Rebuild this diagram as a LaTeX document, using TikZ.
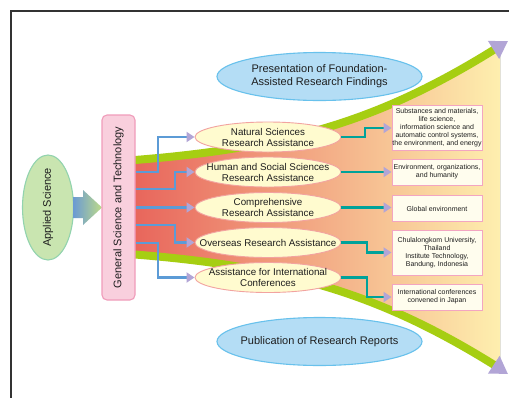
\documentclass[tikz,border=0pt]{standalone}
\usepackage{fontspec}
\setmainfont{Liberation Sans}
\usetikzlibrary{arrows.meta,shapes.geometric}
\definecolor{framec}{HTML}{333333}
\definecolor{lav}{HTML}{B2A5D6}
\definecolor{bconnc}{HTML}{5C9BD6}
\definecolor{tealc}{HTML}{00A29A}
\definecolor{bandc}{HTML}{A6CE12}
\definecolor{midfill}{HTML}{FFFBCF}
\definecolor{midline}{HTML}{F2A3A0}
\definecolor{bluefill}{HTML}{B4DDF5}
\definecolor{blueline}{HTML}{68C1EC}
\definecolor{appfill}{HTML}{C9E5B0}
\definecolor{appline}{HTML}{92D3AE}
\definecolor{gstfill}{HTML}{F9CFDD}
\definecolor{gstline}{HTML}{F09CBA}
\definecolor{boxfill}{HTML}{FFFDEE}
\definecolor{boxline}{HTML}{F3A5C1}
\definecolor{fred}{HTML}{E8665C}
\definecolor{forange}{HTML}{F6BC8B}
\definecolor{fyellow}{HTML}{FFF5B2}
\definecolor{arrblue}{HTML}{6C9BD2}
\definecolor{arrgreen}{HTML}{BEDB88}
\definecolor{textc}{HTML}{1E1E1E}
\tikzset{
  midell/.style={ellipse, draw=midline, line width=0.9pt, fill=midfill, minimum width=146pt, minimum height=30pt, inner sep=0pt,
    label={[align=center, font=\fontsize{9.8}{11}\selectfont, text=textc]center:#1}},
  bigell/.style={ellipse, draw=blueline, line width=1.1pt, fill=bluefill, minimum width=205pt, minimum height=48pt, inner sep=0pt,
    label={[align=center, font=\fontsize{11}{13}\selectfont, text=textc]center:#1}},
  resbox/.style={rectangle, draw=boxline, line width=0.9pt, fill=boxfill, minimum width=90pt, inner sep=0pt, align=center, font=\fontsize{7}{8}\selectfont, text=textc},
  bconn/.style={draw=bconnc, line width=2.4pt, -{Triangle[length=8pt,width=10pt,fill=lav,color=lav]}},
  tconn/.style={draw=tealc, line width=2.4pt, -{Triangle[length=8pt,width=10pt,fill=lav,color=lav]}},
  band/.style={draw=bandc, line width=8pt, -{Triangle[length=17pt,width=20pt,fill=lav,color=lav]}}
}
\begin{document}
\begin{tikzpicture}[x=1pt,y=-1pt]
\clip (0,0) rectangle (509,397);
\useasboundingbox (0,0) rectangle (509,397);
\fill[white] (0,0) rectangle (509,397);
% frame
\draw[framec, line width=1.2pt] (11,420) -- (11,11) -- (530,11);
% funnel fill
\begin{scope}
\clip (135,0) rectangle (500,397);
\fill[left color=fred, middle color=forange, right color=fyellow]
  (135,160) .. controls (285,148) and (377.5,122) .. (493.5,50) -- (516,36)
  -- (516,379) -- (493.5,364.5) .. controls (377.5,292.5) and (285,266.5) .. (135,254.5) -- cycle;
\end{scope}
% green bands
\draw[band] (135,160) .. controls (285,148) and (377.5,122) .. (493.5,50) -- (508,41);
\draw[band] (135,254.5) .. controls (285,266.5) and (377.5,292.5) .. (493.5,364.5) -- (508,374);
% left nodes
\node[ellipse, draw=appline, line width=1.1pt, fill=appfill, minimum width=51pt, minimum height=105pt, inner sep=0pt,
  label={[rotate=90, font=\fontsize{11}{13}\selectfont, text=textc]center:Applied Science}] (app) at (48,207.5) {};
\shade[left color=arrblue, right color=arrgreen]
  (73.5,197) -- (83,197) -- (83,190) -- (102,207.5) -- (83,225) -- (83,218) -- (73.5,218) -- cycle;
\node[rectangle, rounded corners=5pt, draw=gstline, line width=1.1pt, fill=gstfill, minimum width=33pt, minimum height=185pt, inner sep=0pt,
  label={[rotate=90, font=\fontsize{11}{13}\selectfont, text=textc]center:General Science and Technology}] (gst) at (118.5,207.5) {};
% big ellipses
\node[bigell={Presentation of Foundation-\\Assisted Research Findings}] (pres) at (319.5,76.5) {};
\node[bigell={Publication of Research Reports}] (pub) at (319.5,341.5) {};
% middle ellipses
\node[midell={Natural Sciences\\Research Assistance}] (nat) at (268,137) {};
\node[midell={Human and Social Sciences\\Research Assistance}] (hum) at (268,172) {};
\node[midell={Comprehensive\\Research Assistance}] (comp) at (268,207.5) {};
\node[midell={Overseas Research Assistance}] (over) at (268,242.5) {};
\node[midell={Assistance for International\\Conferences}] (intl) at (268,277.5) {};
% result boxes
\node[resbox, minimum height=45pt] (b1) at (437,128) {Substances and materials,\\life science,\\information science and\\automatic control systems,\\the environment, and energy};
\node[resbox, minimum height=26pt] (b2) at (437,172) {Environment, organizations,\\and humanity};
\node[resbox, minimum height=26pt] (b3) at (437,208.5) {Global environment};
\node[resbox, minimum height=45pt] (b4) at (437,252.5) {Chulalongkom University,\\Thailand\\Institute Technology,\\Bandung, Indonesia};
\node[resbox, minimum height=26pt] (b5) at (437,297) {International conferences\\convened in Japan};
% blue connectors
\draw[bconn] (gst.east |- 0,172) -| (158,137) -- (nat.west);
\draw[bconn] (gst.east |- 0,189) -| (175,172) -- (hum.west);
\draw[bconn] (gst.east |- 0,207.5) -- (comp.west);
\draw[bconn] (gst.east |- 0,225) -| (175,242.5) -- (over.west);
\draw[bconn] (gst.east |- 0,243) -| (158,277.5) -- (intl.west);
% teal connectors
\draw[tconn] (nat.east) -| (365,128) -- (b1.west);
\draw[tconn] (hum.east) -- (b2.west);
\draw[tconn] (comp.east) -- (comp.east -| b3.west);
\draw[tconn] (over.east) -| (367,252.5) -- (b4.west);
\draw[tconn] (intl.east) -| (367,297) -- (b5.west);
\end{tikzpicture}
\end{document}
